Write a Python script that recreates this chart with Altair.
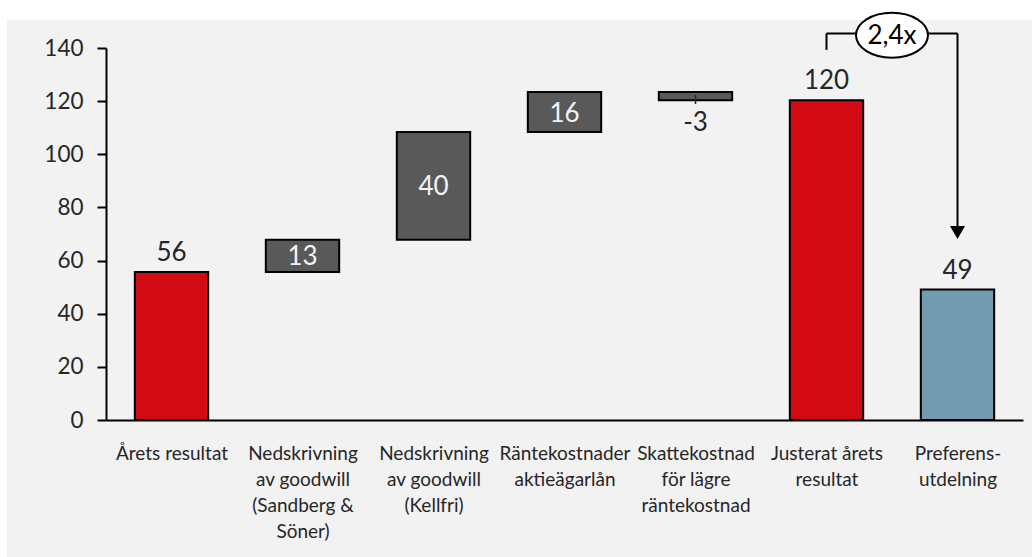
import json
import altair as alt
import pandas as pd

# ---------------- data ----------------
category_lines = [
    ["Årets resultat"],
    ["Nedskrivning", "av goodwill", "(Sandberg &", "Söner)"],
    ["Nedskrivning", "av goodwill", "(Kellfri)"],
    ["Räntekostnader", "aktieägarlån"],
    ["Skattekostnad", "för lägre", "räntekostnad"],
    ["Justerat årets", "resultat"],
    ["Preferens-", "utdelning"],
]
kinds = ["total", "delta", "delta", "delta", "delta", "total", "total"]
drawn_values = [55.7, 12.1, 40.6, 15.0, -3.1, 120.3, 49.1]
label_values = [56, 13, 40, 16, -3, 120, 49]
bar_colors = ["#D20A14", "#595959", "#595959", "#595959", "#595959", "#D20A14", "#729BB0"]
y_ticks = [0, 20, 40, 60, 80, 100, 120, 140]

ratio_label = "2,4x"
bracket_from = 5
bracket_to = 6
bracket_level = 145.5
bracket_left_end = 139.3
arrow_line_end = 73.0
arrow_head_at = 70.6
ellipse_level = 144.8
tax_tick = [122.3, 118.9]

# ---------------- derived table ----------------
HALF = 0.28
rows = []
running = 0.0
for i, (kind, v, lab, col) in enumerate(zip(kinds, drawn_values, label_values, bar_colors)):
    if kind == "total":
        low, high = 0.0, v
        running = v
        mode, ly = "above", high
    else:
        low, high = running, running + v
        running = running + v
        if v >= 0:
            mode, ly = "inside", (low + high) / 2
        else:
            mode, ly = "below", min(low, high)
    rows.append(dict(idx=i, x0=i - HALF, x1=i + HALF, low=low, high=high,
                     color=col, label=str(lab), mode=mode, label_y=ly))
df = pd.DataFrame(rows)

label_expr = json.dumps(category_lines, ensure_ascii=False) + "[datum.value]"

xscale = alt.Scale(domain=[-0.5, 6.5], nice=False, zero=False)
yscale = alt.Scale(domain=[0, 140], nice=False)

bg = alt.Chart(pd.DataFrame({"a": [0]})).mark_rect(color="#F2F2F2").encode(
    x=alt.value(-99), x2=alt.value(926), y=alt.value(-28), y2=alt.value(509)
)

bars = alt.Chart(df).mark_bar(stroke="black", strokeWidth=2).encode(
    x=alt.X("x0:Q", scale=xscale,
            axis=alt.Axis(title=None, values=list(range(len(category_lines))),
                          labelExpr=label_expr, ticks=False, tickSize=0, grid=False,
                          labelPadding=39, labelBaseline="alphabetic",
                          labelLineHeight=26, labelFontSize=19, labelFlush=False,
                          labelOverlap=False, labelBound=False, labelLimit=300,
                          labelColor="#262626", domainColor="black", domainWidth=2,
                          zindex=1)),
    x2="x1:Q",
    y=alt.Y("low:Q", scale=yscale,
            axis=alt.Axis(title=None, values=y_ticks, grid=False, tickSize=9,
                          tickWidth=2, tickColor="black", domainColor="black",
                          domainWidth=2, labelPadding=14, labelFontSize=22.5,
                          labelColor="#262626", zindex=1)),
    y2="high:Q",
    color=alt.Color("color:N", scale=None),
)

base_text = alt.Chart(df).encode(x="idx:Q", y="label_y:Q", text="label:N")
t_above = base_text.mark_text(fontSize=26, color="#262626", baseline="alphabetic", dy=-11).transform_filter(
    alt.datum.mode == "above")
t_inside = base_text.mark_text(fontSize=26, color="#F2F2F2", baseline="alphabetic", dy=9.5).transform_filter(
    alt.datum.mode == "inside")
t_below = base_text.mark_text(fontSize=26, color="#262626", baseline="alphabetic", dy=31).transform_filter(
    alt.datum.mode == "below")

tick_df = pd.DataFrame({"x": [4], "y": [tax_tick[0]], "y2": [tax_tick[1]]})
tick = alt.Chart(tick_df).mark_rule(color="#262626", strokeWidth=1.5).encode(x="x:Q", y="y:Q", y2="y2:Q")

seg_df = pd.DataFrame({
    "x": [bracket_from, bracket_from, bracket_to],
    "x2": [bracket_to, bracket_from, bracket_to],
    "y": [bracket_level, bracket_left_end, arrow_line_end],
    "y2": [bracket_level, bracket_level, bracket_level],
})
segs = alt.Chart(seg_df).mark_rule(color="black", strokeWidth=2).encode(
    x="x:Q", x2="x2:Q", y="y:Q", y2="y2:Q")

head = alt.Chart(pd.DataFrame({"x": [bracket_to], "y": [arrow_head_at]})).mark_point(
    shape="triangle-down", filled=True, color="black", size=225, opacity=1).encode(x="x:Q", y="y:Q")

mid = (bracket_from + bracket_to) / 2
ell_df = pd.DataFrame({"x": [mid], "y": [ellipse_level], "t": [ratio_label]})
ellipse = alt.Chart(ell_df).mark_point(
    shape="M-1,0A1,0.625 0 1,0 1,0A1,0.625 0 1,0 -1,0Z", filled=True, fill="white",
    stroke="black", strokeWidth=2, size=72 * 72, opacity=1).encode(x="x:Q", y="y:Q")
ratio_text = alt.Chart(ell_df).mark_text(fontSize=26, color="black", baseline="middle", dy=1).encode(
    x="x:Q", y="y:Q", text="t:N")

chart = alt.layer(bg, bars, t_above, t_inside, t_below, tick, segs, head, ellipse, ratio_text).properties(
    width=917, height=372,
    autosize=alt.AutoSizeParams(type="none"),
    padding={"left": 106, "top": 48, "right": 9, "bottom": 137},
    background="white",
).configure(font="Lato").configure_view(stroke=None)

chart.save("out.html", embed_options={"renderer": "svg", "actions": False})
